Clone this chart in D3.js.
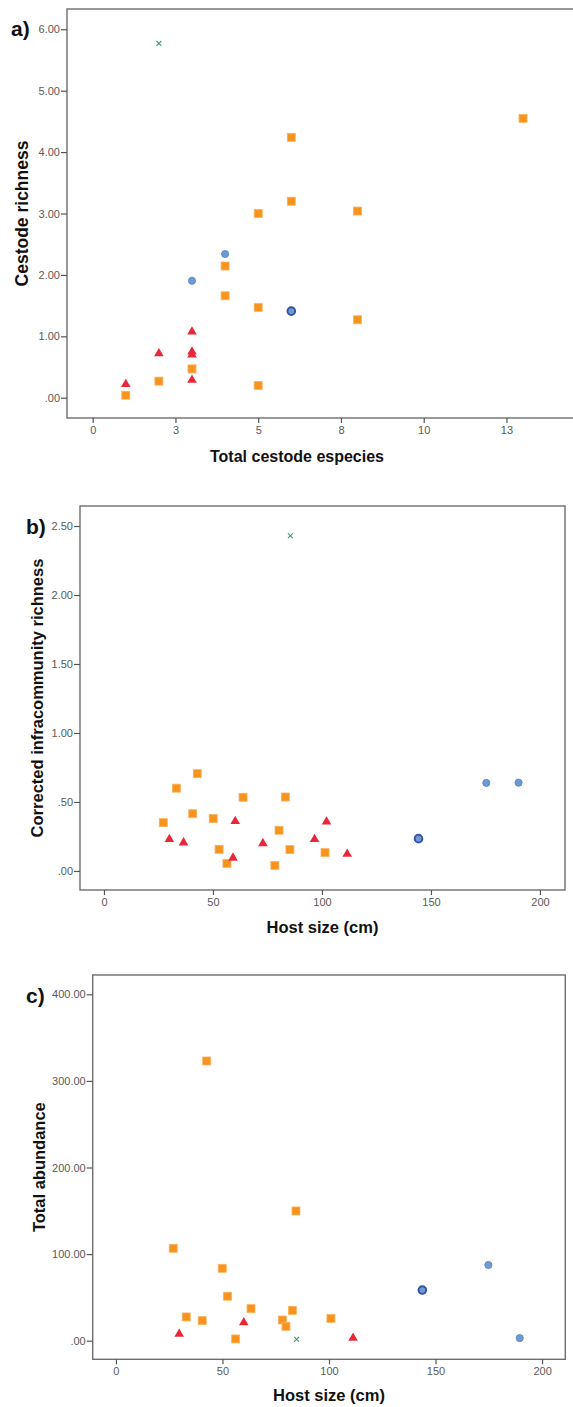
<!DOCTYPE html>
<html>
<head>
<meta charset="utf-8">
<script src="https://cdn.jsdelivr.net/npm/d3@7"></script>
<style>
  html, body { margin: 0; padding: 0; background: #fff; }
  svg { display: block; }
  text { font-family: "Liberation Sans", Arial, sans-serif; }
</style>
</head>
<body>
<svg id="chart" width="573" height="1407"></svg>
<script>
// ---------- Panel a: Cestode richness vs Total cestode especies ----------
const aXTicks = [0, 2.5, 5, 7.5, 10, 12.5];
const aXTickLabels = ["0", "3", "5", "8", "10", "13"];
const aYTicks = [0, 1, 2, 3, 4, 5, 6];
const aYTickLabels = [".00", "1.00", "2.00", "3.00", "4.00", "5.00", "6.00"];
const aSquares = [[1, 0.04], [2, 0.27], [3, 0.47], [4, 2.145], [4, 1.66], [5, 3.0], [5, 1.47], [5, 0.20],
                  [6, 4.24], [6, 3.20], [8, 3.04], [8, 1.27], [13, 4.55]];
const aTriangles = [[1, 0.22], [2, 0.72], [3, 1.075], [3, 0.75], [3, 0.70], [3, 0.29]];
const aCircles = [[3, 1.905], [4, 2.34]];
const aDarkCircles = [[6, 1.41]];
const aCrosses = [[2, 5.77]];

// ---------- Panel b: Corrected infracommunity richness vs Host size ----------
const bXTicks = [0, 50, 100, 150, 200];
const bXTickLabels = ["0", "50", "100", "150", "200"];
const bYTicks = [0, 0.5, 1, 1.5, 2, 2.5];
const bYTickLabels = [".00", ".50", "1.00", "1.50", "2.00", "2.50"];
const bSquares = [[27.2, 0.35], [33.2, 0.60], [42.8, 0.705], [40.7, 0.415], [50.1, 0.38], [63.8, 0.534],
                  [83.2, 0.536], [80.3, 0.295], [85.3, 0.155], [78.4, 0.04], [56.4, 0.055], [52.8, 0.157],
                  [101.4, 0.133]];
const bTriangles = [[30, 0.23], [36.5, 0.205], [60.2, 0.36], [59.2, 0.095], [72.9, 0.20],
                    [96.6, 0.23], [102.1, 0.357], [111.6, 0.123]];
const bCircles = [[175.4, 0.638], [190.2, 0.64]];
const bDarkCircles = [[144.3, 0.234]];
const bCrosses = [[85.5, 2.43]];

// ---------- Panel c: Total abundance vs Host size ----------
const cXTicks = [0, 50, 100, 150, 200];
const cXTickLabels = ["0", "50", "100", "150", "200"];
const cYTicks = [0, 100, 200, 300, 400];
const cYTickLabels = [".00", "100.00", "200.00", "300.00", "400.00"];
const cSquares = [[42.6, 323], [26.9, 106.7], [49.9, 83.6], [52.4, 51.3], [63.4, 37], [33, 27.4],
                  [40.5, 23.1], [56.2, 2], [78.1, 23.9], [79.8, 16.6], [82.8, 35], [84.5, 149.8],
                  [100.9, 25.8]];
const cTriangles = [[29.7, 7.7], [60, 21], [111.3, 3]];
const cCircles = [[174.8, 87.4], [189.5, 3]];
const cDarkCircles = [[143.8, 58.5]];
const cCrosses = [[84.8, 1.6]];

const COLORS = {
  square: "#F7941D", squareStroke: "#FBB25F",
  triangle: "#E8283A",
  circle: "#6C9BD4", circleStroke: "#5782C4",
  dark: "#3753A8", darkFill: "#6C9BD4",
  cross: "#3C9E6C",
  frame: "#6e6e6e", tick: "#555", tickText: "#5a5a5a"
};

const svg = d3.select("#chart");

function panel(cfg) {
  const g = svg.append("g");
  const x = d3.scaleLinear().domain(cfg.xDomain).range([cfg.left, cfg.right]);
  const y = d3.scaleLinear().domain(cfg.yDomain).range([cfg.bottom, cfg.top]);

  // frame
  g.append("rect")
    .attr("x", cfg.left).attr("y", cfg.top)
    .attr("width", cfg.right - cfg.left).attr("height", cfg.bottom - cfg.top)
    .attr("fill", "none").attr("stroke", COLORS.frame).attr("stroke-width", 1.4);

  // axes
  const xAxis = d3.axisBottom(x).tickValues(cfg.xTicks)
    .tickFormat((d, i) => cfg.xTickLabels[i]).tickSizeOuter(0).tickSize(5).tickPadding(3);
  const yAxis = d3.axisLeft(y).tickValues(cfg.yTicks)
    .tickFormat((d, i) => cfg.yTickLabels[i]).tickSizeOuter(0).tickSize(6).tickPadding(1);

  const gx = g.append("g").attr("transform", `translate(0,${cfg.bottom})`).call(xAxis);
  const gy = g.append("g").attr("transform", `translate(${cfg.left},0)`).call(yAxis);
  [gx, gy].forEach(ax => {
    ax.select(".domain").remove();
    ax.selectAll(".tick line").attr("stroke", COLORS.tick).attr("stroke-width", 1.2);
    ax.selectAll(".tick text").attr("fill", COLORS.tickText)
      .style("font-size", "11px").style("font-family", '"Liberation Sans", Arial, sans-serif');
  });

  // axis titles
  g.append("text")
    .attr("x", (cfg.left + Math.min(cfg.right, 573)) / 2 + (cfg.xTitleShift || 0))
    .attr("y", cfg.xTitleY)
    .attr("text-anchor", "middle")
    .style("font-size", cfg.xTitleSize + "px").style("font-weight", "bold")
    .attr("fill", "#111").text(cfg.xTitle);
  g.append("text")
    .attr("transform", `translate(${cfg.yTitleX},${(cfg.top + cfg.bottom) / 2}) rotate(-90)`)
    .attr("text-anchor", "middle")
    .style("font-size", cfg.yTitleSize + "px").style("font-weight", "bold")
    .attr("fill", "#111").text(cfg.yTitle);

  // panel letter
  g.append("text")
    .attr("x", cfg.letterX).attr("y", cfg.letterY)
    .style("font-size", "21px").style("font-weight", "bold")
    .attr("fill", "#111").text(cfg.letter);

  // marks
  const sq = 8;
  g.selectAll(null).data(cfg.squares).enter().append("rect")
    .attr("x", d => x(d[0]) - sq / 2).attr("y", d => y(d[1]) - sq / 2)
    .attr("width", sq).attr("height", sq)
    .attr("fill", COLORS.square).attr("stroke", COLORS.squareStroke).attr("stroke-width", 0.8);

  const tri = d3.symbol().type(d3.symbolTriangle).size(40);
  g.selectAll(null).data(cfg.triangles).enter().append("path")
    .attr("d", tri)
    .attr("transform", d => `translate(${x(d[0])},${y(d[1])})`)
    .attr("fill", COLORS.triangle);

  g.selectAll(null).data(cfg.circles).enter().append("circle")
    .attr("cx", d => x(d[0])).attr("cy", d => y(d[1])).attr("r", 3.6)
    .attr("fill", COLORS.circle).attr("stroke", COLORS.circleStroke).attr("stroke-width", 0.8);

  g.selectAll(null).data(cfg.dark).enter().append("circle")
    .attr("cx", d => x(d[0])).attr("cy", d => y(d[1])).attr("r", 3.8)
    .attr("fill", COLORS.darkFill).attr("stroke", COLORS.dark).attr("stroke-width", 2);

  const cr = 2.4;
  g.selectAll(null).data(cfg.crosses).enter().append("path")
    .attr("d", d => {
      const cx = x(d[0]), cy = y(d[1]);
      return `M${cx - cr},${cy - cr}L${cx + cr},${cy + cr}M${cx - cr},${cy + cr}L${cx + cr},${cy - cr}`;
    })
    .attr("stroke", COLORS.cross).attr("stroke-width", 1.1).attr("fill", "none");
}

panel({
  left: 67, right: 574, top: 9, bottom: 418,
  xDomain: [-0.776, 14.54], yDomain: [-0.33, 6.33],
  xTicks: aXTicks, xTickLabels: aXTickLabels, yTicks: aYTicks, yTickLabels: aYTickLabels,
  xTitle: "Total cestode especies", yTitle: "Cestode richness",
  xTitleY: 462, yTitleX: 28, xTitleSize: 16, yTitleSize: 17.5, xTitleShift: -23,
  letter: "a)", letterX: 11, letterY: 36,
  squares: aSquares, triangles: aTriangles, circles: aCircles, dark: aDarkCircles, crosses: aCrosses
});

panel({
  left: 80, right: 565, top: 506, bottom: 890,
  xDomain: [-11.0, 211.5], yDomain: [-0.138, 2.645],
  xTicks: bXTicks, xTickLabels: bXTickLabels, yTicks: bYTicks, yTickLabels: bYTickLabels,
  xTitle: "Host size (cm)", yTitle: "Corrected infracommunity richness",
  xTitleY: 932.5, yTitleX: 43, xTitleSize: 16.5, yTitleSize: 16.5,
  letter: "b)", letterX: 26, letterY: 534,
  squares: bSquares, triangles: bTriangles, circles: bCircles, dark: bDarkCircles, crosses: bCrosses
});

panel({
  left: 92.7, right: 565.3, top: 975, bottom: 1359.3,
  xDomain: [-10.9, 210.9], yDomain: [-21.5, 422.3],
  xTicks: cXTicks, xTickLabels: cXTickLabels, yTicks: cYTicks, yTickLabels: cYTickLabels,
  xTitle: "Host size (cm)", yTitle: "Total abundance",
  xTitleY: 1401, yTitleX: 45, xTitleSize: 16.5, yTitleSize: 16.5,
  letter: "c)", letterX: 26, letterY: 1003,
  squares: cSquares, triangles: cTriangles, circles: cCircles, dark: cDarkCircles, crosses: cCrosses
});
</script>
</body>
</html>
